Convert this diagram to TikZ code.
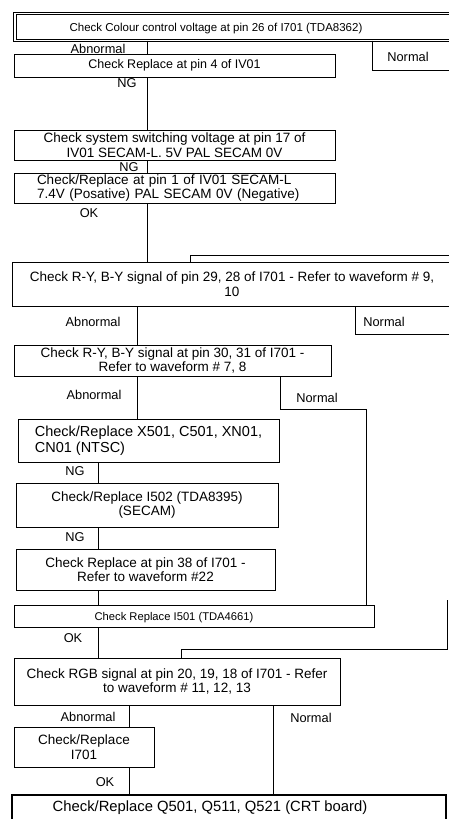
\documentclass[tikz,border=0pt]{standalone}
\usepackage{fontspec}
\setmainfont{Liberation Sans}

\begin{document}
\begin{tikzpicture}[x=1pt,y=-1pt,line width=0.9pt,
  box/.style={draw,rectangle,anchor=north west,inner xsep=2pt,inner ysep=1pt,outer sep=0pt,align=center},
  lbl/.style={inner sep=0pt,text height=9pt,text depth=0pt,font=\fontsize{12.8}{14}\selectfont},
  font=\fontsize{13.5}{14.5}\selectfont]
\clip (0,0) rectangle (449,819);

% boxes
\node[box,double,double distance=1.8pt,line width=0.8pt,minimum width=470pt,minimum height=27pt,
  label={[lbl,xshift=-34pt,font=\fontsize{11.5}{13}\selectfont]center:Check Colour control voltage at pin 26 of I701 (TDA8362)}] (colour) at (15,13.5) {};
\node[box,minimum width=321pt,minimum height=23pt,font=\fontsize{12.5}{14}\selectfont] (pin4) at (14,54) {Check Replace at pin 4 of IV01};
\node[box,minimum width=321pt,minimum height=30pt] (switch) at (14,130) {Check system switching voltage at pin 17 of\\IV01 SECAM-L. 5V PAL SECAM 0V};
\node[box,align=left,text width=275pt,minimum width=321pt,minimum height=30pt] (pin1) at (14,173) {Check/Replace at pin 1 of IV01 SECAM-L\\7.4V (Posative) PAL SECAM 0V (Negative)};
\node[box,minimum width=440pt,minimum height=44pt] (ryby) at (12,262) {Check R-Y, B-Y signal of pin 29, 28 of I701 - Refer to waveform \# 9,\\10};
\node[box,minimum width=317pt,minimum height=31pt] (rybyin) at (14,345) {Check R-Y, B-Y signal at pin 30, 31 of I701 -\\Refer to waveform \# 7, 8};
\node[box,align=left,minimum width=261pt,minimum height=43pt,font=\fontsize{14.5}{16}\selectfont] (xtal) at (18,419) {Check/Replace X501, C501, XN01,\\CN01 (NTSC)};
\node[box,minimum width=262pt,minimum height=44pt] (secam) at (16,483) {Check/Replace I502 (TDA8395)\\(SECAM)};
\node[box,minimum width=259pt,minimum height=41pt] (pin38) at (16,549) {Check Replace at pin 38 of I701 -\\Refer to waveform \#22};
\node[box,minimum width=360pt,minimum height=22pt,
  label={[lbl,xshift=-20pt,font=\fontsize{11.2}{13}\selectfont]center:Check Replace I501 (TDA4661)}] (matrix) at (14,605) {};
\node[box,minimum width=326pt,minimum height=47pt] (rgb) at (14,658) {Check RGB signal at pin 20, 19, 18 of I701 - Refer\\to waveform \# 11, 12, 13};
\node[box,minimum width=140pt,minimum height=40pt] (jungle) at (14,727) {Check/Replace\\I701};
\node[box,line width=2pt,minimum width=434pt,minimum height=30pt,
  label={[lbl,xshift=-19pt,yshift=3pt,font=\fontsize{14.8}{16}\selectfont]center:Check/Replace Q501, Q511, Q521 (CRT board)}] (crt) at (12,795) {};

% trunk lines
\coordinate (t1) at (147,0);
\coordinate (t2) at (137,0);
\coordinate (t3) at (98,0);
\coordinate (t4) at (129,0);
\draw (colour.south -| t1) -- (pin4.north -| t1);
\draw (pin4.south -| t1) -- (switch.north -| t1);
\draw (switch.south -| t1) -- (pin1.north -| t1);
\draw (pin1.south -| t1) -- (ryby.north -| t1);
\draw (ryby.south -| t2) -- (rybyin.north -| t2);
\draw (rybyin.south -| t2) -- (xtal.north -| t2);
\draw (xtal.south -| t3) -- (secam.north -| t3);
\draw (secam.south -| t3) -- (pin38.north -| t3);
\draw (pin38.south -| t3) -- (matrix.north -| t3);
\draw (matrix.south -| t3) -- (rgb.north -| t3);
\draw (rgb.south -| t4) -- (jungle.north -| t4);
\draw (jungle.south -| t4) -- (crt.north -| t4);

% normal branches
\coordinate (n1) at (372,70);
\coordinate (n1e) at (460,70);
\draw (colour.south -| n1) -- (n1) -- (n1e);
\coordinate (r1) at (190,255);
\coordinate (r1e) at (460,255);
\draw (r1e) -- (r1) -- (ryby.north -| r1);
\coordinate (n2) at (355,334);
\coordinate (n2e) at (460,334);
\draw (ryby.south -| n2) -- (n2) -- (n2e);
\coordinate (n3) at (280,409);
\coordinate (n3b) at (366,409);
\draw (rybyin.south -| n3) -- (n3) -- (n3b) -- (matrix.north -| n3b);
\coordinate (r3) at (181,649);
\coordinate (r3e) at (447,600);
\draw (r3e) -- (r3e |- r3) -- (r3) -- (rgb.north -| r3);
\coordinate (n4) at (273,0);
\draw (rgb.south -| n4) -- (crt.north -| n4);

% branch labels
\node[lbl] (ab1) at (98,48.5) {Abnormal};
\node[lbl] (no1) at (408,57) {Normal};
\node[lbl] (ng1) at (127,83) {NG};
\node[lbl] (ng2) at (129,166.5) {NG};
\node[lbl] (ok1) at (89,213) {OK};
\node[lbl] (ab2) at (93,322) {Abnormal};
\node[lbl] (no2) at (384,322) {Normal};
\node[lbl] (ab3) at (94,395) {Abnormal};
\node[lbl] (no3) at (317,398) {Normal};
\node[lbl] (ng3) at (75,471) {NG};
\node[lbl] (ng4) at (75,537) {NG};
\node[lbl] (ok2) at (73,638) {OK};
\node[lbl] (ab4) at (88,717) {Abnormal};
\node[lbl] (no4) at (311,718) {Normal};
\node[lbl] (ok3) at (105,782) {OK};
\end{tikzpicture}
\end{document}
